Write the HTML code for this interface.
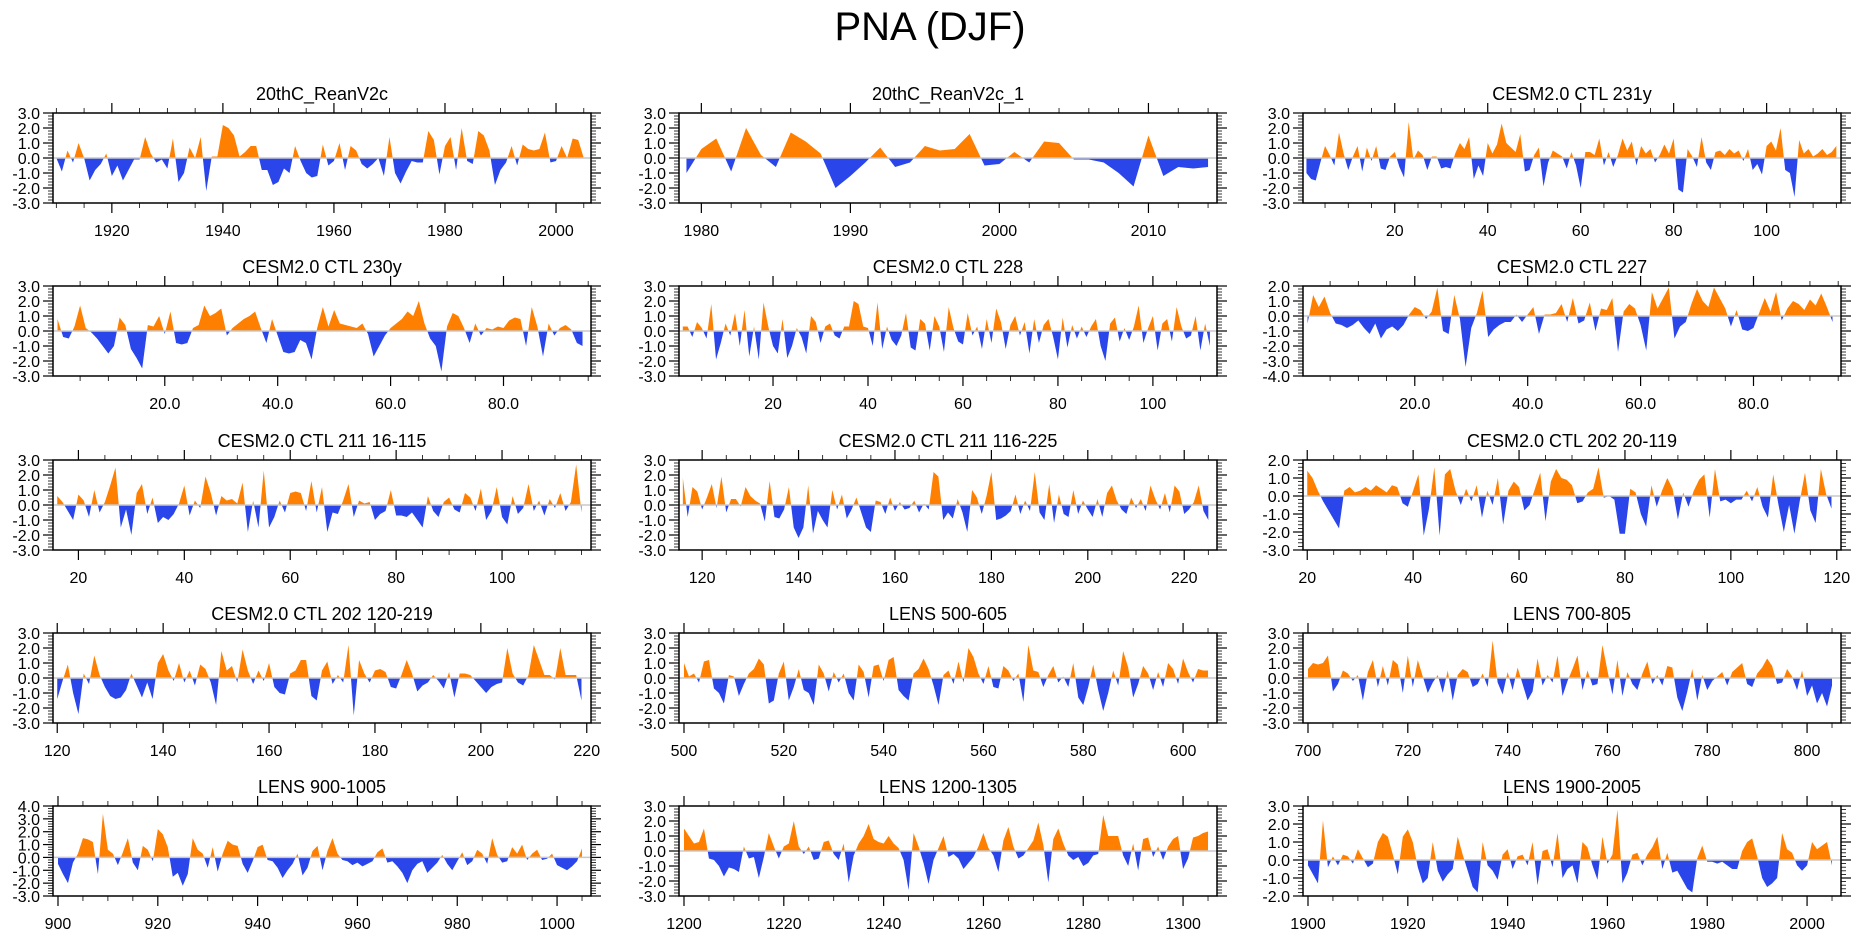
<!DOCTYPE html>
<html><head><meta charset="utf-8"><title>PNA (DJF)</title>
<style>
html,body{margin:0;padding:0;background:#fff;}
svg{display:block;font-family:"Liberation Sans",Arial,sans-serif;}
</style></head>
<body>
<svg id="chart" width="1861" height="936" viewBox="0 0 1861 936" xmlns="http://www.w3.org/2000/svg">
<text x="930" y="40" text-anchor="middle" font-size="40">PNA (DJF)</text>
<g id="panels"></g>
</svg>
<script>
const titles = ["20thC_ReanV2c","20thC_ReanV2c_1","CESM2.0 CTL 231y","CESM2.0 CTL 230y","CESM2.0 CTL 228","CESM2.0 CTL 227","CESM2.0 CTL 211 16-115","CESM2.0 CTL 211 116-225","CESM2.0 CTL 202 20-119","CESM2.0 CTL 202 120-219","LENS 500-605","LENS 700-805","LENS 900-1005","LENS 1200-1305","LENS 1900-2005"];
const starts = [1910,1979,1,1,1,1,16,116,20,120,500,700,900,1200,1900];
const xMins = [1909.4,1978.5,0.26,0.2,0.2,0.2,15.2,115.2,19.2,119.2,499,699,899,1199,1899];
const xMaxs = [2006.3,2014.6,116,95.5,113.5,95.5,116.8,226.8,120.8,220.8,606.8,806.8,1006.8,1306.8,2006.8];
const yMins = [-3,-3,-3,-3,-3,-4,-3,-3,-3,-3,-3,-3,-3,-3,-2];
const yMaxs = [3,3,3,3,3,2,3,3,2,3,3,3,4,3,3];
const xMajor = [20,10,20,20,20,20,20,20,20,20,20,20,20,20,20];
const xMinor = [5,2,5,5,5,5,5,5,5,5,5,5,5,5,5];
const xLabelDecimals = [0,0,0,1,0,1,0,0,0,0,0,0,0,0,0];

const s1 = [0,-0.9,0.5,-0.3,1.0,0,-1.5,-0.8,-0.4,0.3,-1.2,-0.5,-1.5,-0.8,-0.1,-0.1,1.4,0.3,-0.3,-0.1,-0.7,1.3,-1.6,-1.0,0.7,0,1.4,-2.2,0.1,0.1,2.2,2.0,1.5,0.1,0.4,0.8,0.8,-0.8,-0.8,-1.8,-1.6,-0.7,-1.0,0.8,-0.2,-1.0,-1.3,-1.2,0.9,-0.5,-0.2,1.0,-0.8,0.8,0.5,-0.4,-0.7,-0.4,0,-1.2,1.4,-1.0,-1.7,-0.9,-0.2,-0.3,-0.3,1.8,1.2,-1.1,0.8,1.4,-0.8,2.0,-0.2,-0.4,1.8,1.5,0.5,-1.8,-0.8,-0.3,0.8,-0.5,0.9,0.6,0.5,0.6,1.7,-0.3,-0.2,0.8,0,1.3,1.2,0];
const s2 = [-1.0,0.6,1.3,-0.9,2.0,0.2,-0.6,1.7,1.1,0.3,-2.0,-1.2,-0.3,0.7,-0.6,-0.3,0.8,0.5,0.6,1.6,-0.5,-0.4,0.4,-0.3,1.1,1.0,-0.1,-0.1,-0.3,-1.0,-1.9,1.5,-1.2,-0.6,-0.7,-0.6];
const s3 = [-1.0,-1.4,-1.5,-0.3,0.8,0.2,-0.5,1.7,0.3,-0.8,0.1,0.8,-0.9,0.7,-0.2,0.8,-0.7,-0.8,0.1,0.4,-0.6,-1.3,2.4,-0.1,0.5,0.2,-0.8,0.1,0.1,-0.7,-0.6,-0.7,0.3,1.0,0.6,1.4,-1.4,-0.5,-1.2,1.0,0.3,0.9,2.3,1.0,0.7,0.4,1.6,-0.9,-0.8,0.2,0.7,-1.9,-0.3,0.5,0.3,0.1,-0.7,0.4,-0.5,-2.0,0.4,0.4,0.2,1.3,-0.5,0.4,-0.6,0.2,1.3,0.5,1.1,-0.5,0.8,0.3,0.6,-0.3,0.2,0.9,0.3,1.3,-2.1,-2.3,0.6,0.1,-0.6,1.4,-0.3,-0.8,0.4,0.5,0.2,0.6,0.3,0.5,-0.2,0.6,-0.8,-0.4,-1.1,0.8,1.1,0.5,2.0,-0.8,-1.0,-2.6,1.2,0.3,0.6,0.1,0.3,0.6,0.2,0.4,0.8];
const s4 = [0.8,-0.4,-0.5,0.3,1.7,0.2,-0.1,-0.5,-1.0,-1.5,-1.0,0.9,0.4,-1.2,-1.8,-2.5,0.4,0.3,1.0,-0.2,1.3,-0.8,-0.9,-0.8,0.2,0.4,1.7,1.0,1.2,1.5,-0.3,0.2,0.5,0.8,1.0,1.3,0.2,-0.8,0.8,-0.3,-1.4,-1.5,-1.4,-0.6,-0.8,-1.9,0.2,1.6,0.3,1.4,0.5,0.4,0.3,0.2,0.5,-0.2,-1.7,-1.0,-0.3,0.2,0.5,0.8,1.3,1.0,2.0,0.5,-0.5,-1.0,-2.7,0.3,1.2,1.0,0.2,-0.8,0.5,-0.3,0.2,0.1,0.3,0.2,0.7,0.9,0.8,-1.0,1.6,0.3,-1.7,0.5,-0.3,0.2,0.4,0.1,-0.8,-1.0];
const s5 = [0.3,0.3,-0.4,0.6,0.2,-0.5,1.8,-1.9,-0.8,0.5,-0.3,1.2,-1.0,1.4,-1.7,0.3,-1.9,1.9,0.3,-1.0,-1.5,0.8,-1.8,-1.0,0.2,-0.4,-1.5,1.0,0.6,-0.8,0.3,0.5,-0.3,-0.5,0.3,0.3,2.0,1.8,0.3,0.2,-1.0,1.9,-1.2,0.3,-0.6,-1.0,-0.3,1.2,-1.1,-1.3,0.8,0.5,-1.3,1.0,0.3,-1.4,1.6,0.2,-0.7,-0.9,1.2,-0.3,0.3,-1.2,0.8,-0.8,1.5,0.6,-1.2,0.4,1.0,-0.3,0.6,-1.5,0.8,-0.8,0.4,0.8,-0.4,-1.9,0.9,-1.1,0.4,-0.5,0.3,-0.4,0.3,0.8,-1.0,-2.0,0.5,0.9,-0.7,0.2,-0.6,0.3,1.7,-0.8,0.2,1.0,-1.3,0.5,0.8,-0.7,1.6,0.3,-0.5,-0.3,1.0,-1.3,0.5,-1.0];
const s6 = [-0.5,1.4,0.6,1.3,0.2,-0.5,-0.6,-0.8,-0.6,-0.3,-0.8,-1.2,-0.5,-1.5,-0.9,-0.7,-1.0,-0.6,0.1,0.6,0.4,-0.2,0.3,1.9,-1.0,-1.2,1.4,-0.2,-3.4,-0.8,0.2,1.7,-1.4,-0.9,-0.6,-0.4,-0.4,0.1,-0.4,0.1,0.6,-1.2,0.1,0.1,0.2,0.8,-0.4,1.2,-0.5,-0.3,0.9,-1.0,0.5,0.4,1.2,-2.4,0.3,0.8,0.5,-0.6,-2.3,1.6,0.5,1.2,1.9,-1.5,-0.7,-0.4,0.8,1.8,1.0,0.6,1.9,1.2,0.5,-0.7,0.4,-0.9,-1.0,-0.8,0.2,1.2,0.3,1.6,-0.3,0.5,1.0,0.8,0.4,1.1,0.7,1.5,0.6,-0.4];
const s7 = [0.6,0.2,-0.4,-1.0,0.7,0.3,-0.8,1.0,-0.5,0.2,1.3,2.5,-1.5,-0.3,-2.0,0.8,1.4,-0.6,0.5,-1.2,-0.8,-1.0,-0.6,0.1,1.3,-0.7,0.3,-0.2,1.9,0.8,-0.7,0.6,0.3,0.4,0.1,1.5,-1.8,0.3,-1.5,2.3,-1.5,-0.8,0.3,-0.5,0.8,0.9,0.8,-0.4,1.6,-0.5,1.2,-1.8,-0.5,-0.6,0.3,1.4,-0.8,0.3,0.1,0.2,-1.0,-0.6,-0.4,1.0,-0.7,-0.7,-0.8,-0.5,-1.0,-1.5,0.6,-0.4,-0.8,0.2,0.5,-0.3,-0.5,0.8,0.5,-0.4,1.1,-1.0,-0.4,1.2,-0.8,-1.3,0.6,-0.6,-0.2,1.4,-0.4,0.3,-0.7,0.4,-0.2,0.8,-0.4,0.2,2.7,-0.5];
const s8 = [1.8,-0.8,1.2,0.9,-0.3,0.5,1.4,-0.2,1.9,-0.5,0.4,0.4,-0.1,1.2,0.6,0.3,0.1,-1.1,1.6,-0.8,-0.9,-0.3,1.2,-1.5,-2.2,-1.5,1.3,-1.9,-0.4,-1.0,-1.5,1.0,-0.3,0.7,-0.9,-0.3,0.5,-0.5,-1.5,-1.8,0.3,0.2,-0.6,0.5,-0.4,0.2,-0.3,-0.2,0.3,-0.5,0.1,-0.3,2.2,1.9,-1.0,-0.5,-0.9,0.4,-0.5,-1.8,1.0,0.5,-0.6,0.6,2.2,-1.0,-0.9,-0.7,-0.4,0.7,-0.6,0.3,-0.4,2.2,-0.5,-1.0,1.4,-1.2,0.7,-0.6,-0.8,1.0,-0.6,0.3,-0.3,-0.8,0.4,-0.8,0.8,1.3,0.3,-0.3,-0.6,0.5,-0.2,0.4,-0.4,1.3,0.4,-0.3,0.8,-0.5,1.3,0.9,-0.6,-0.3,0.2,1.3,-0.4,-1.0];
const s9 = [1.4,1.0,0.3,-0.3,-0.8,-1.3,-1.8,0.3,0.5,0.2,0.3,0.5,0.3,0.6,0.4,0.2,0.6,0.5,-0.4,-0.6,0.3,1.2,-2.2,-0.7,1.6,-2.2,1.2,1.5,0.3,-0.5,0.4,-0.3,0.6,-1.2,0.3,-0.5,1.0,-1.6,0.3,0.8,0.5,-0.8,-0.5,0.4,1.3,-1.4,0.8,1.5,1.0,0.9,0.6,-0.4,-0.3,0.2,0.4,1.6,-0.1,0.0,-0.2,-2.1,-2.1,0.4,0.2,-1.0,-1.7,0.6,-0.6,0.3,1.0,0.4,-1.3,0.2,-0.6,0.3,0.9,1.2,-1.2,1.5,-0.3,-0.2,-0.4,-0.2,-0.2,0.3,-0.3,0.5,-0.6,-1.2,1.2,-0.5,-2.0,-0.5,-2.1,-0.3,1.3,-0.8,-1.5,1.5,0.1,-0.7];
const s10 = [-1.4,-0.2,0.9,-1.0,-2.4,0.3,-0.4,1.5,0.2,-0.6,-1.2,-1.4,-1.3,-0.8,0.3,-0.5,-1.3,-0.3,-1.4,1.0,1.6,0.5,-0.2,1.0,-0.3,0.5,-0.5,0.9,0.6,-0.3,-1.8,1.8,0.5,0.8,-0.3,1.9,0.5,-0.4,0.5,-0.2,1.0,-0.6,-1.0,-1.1,0.3,0.5,1.2,1.2,-1.2,-1.5,0.5,1.1,-0.4,0.2,-0.3,2.2,-2.5,1.2,0.3,-0.3,0.5,0.6,0.4,-0.6,-0.7,0.2,1.2,0.3,-0.9,-0.5,-0.3,0.2,-0.2,-0.7,0.4,-1.3,0.3,0.3,0.2,-0.2,-0.6,-1.0,-0.6,-0.4,-0.3,2.0,0.3,-0.3,-0.5,0.2,2.2,1.2,0.2,0.2,-0.1,2.0,0.2,0.2,0.2,-1.5];
const s11 = [1.0,0.1,0.3,-0.3,1.1,1.2,-0.7,-1.0,-1.7,0.2,0.1,-1.2,-0.4,0.3,0.6,1.3,0.9,-1.7,-1.5,0.3,1.1,-1.5,-0.6,0.6,-0.8,-1.0,-1.8,0.9,0.3,-0.9,0.4,-0.3,0.3,-1.0,-1.5,0.9,0.4,-1.3,0.8,0.9,-0.2,1.2,1.4,-0.8,-1.2,-1.5,0.3,0.6,1.3,0.6,-0.5,-1.8,0.2,0.5,-0.4,1.1,-0.3,2.0,1.4,0.3,-0.4,0.8,-0.6,-0.7,0.8,0.5,-0.2,0.3,-1.6,2.2,0.5,0.4,-0.6,0.2,0.8,-0.3,0.1,-0.6,1.0,-1.3,-1.8,-0.6,0.9,-0.8,-2.2,-1.0,0.5,-0.5,1.8,0.7,-1.3,-0.4,0.8,0.3,-0.8,0.4,-0.6,1.0,0.6,-0.4,1.3,0.4,-0.3,0.6,0.5,0.5];
const s12 = [0.6,1.0,0.9,1.0,1.5,-0.9,-0.4,0.5,0.3,-0.2,0.2,-1.5,0.4,1.2,-0.6,0.8,-0.5,1.2,0.9,-1.0,1.5,-0.6,1.2,0.1,-1.0,-0.3,0.2,-1.0,0.5,-1.5,0.2,0.6,0.4,-0.6,-0.4,0.3,-0.6,2.5,-0.3,-1.1,0.4,-0.8,0.7,-0.4,-1.5,-0.9,1.3,-0.5,0.2,-0.3,1.5,-1.2,-0.2,0.6,1.5,-0.8,0.5,-0.5,-0.4,2.2,0.5,-1.1,1.2,-1.2,0.4,-0.4,-0.8,0.3,1.1,-0.4,0.2,-0.5,0.8,0.7,-1.3,-2.2,-0.9,0.6,-1.5,0.2,-0.8,-0.2,0.1,0.4,-0.5,0.4,0.7,1.0,-0.4,-0.6,0.3,0.7,1.3,0.8,-0.4,-0.3,0.6,0.1,-0.8,0.5,-1.2,-0.5,-1.7,-1.0,-1.9,-0.5];
const s13 = [-0.5,-1.3,-2.0,-0.4,0.3,1.5,1.4,1.2,-1.3,3.4,0.6,0.3,-0.6,0.4,1.5,-0.4,-1.0,0.9,0.6,-0.3,2.2,1.8,0.8,-1.5,-1.2,-2.2,-1.3,1.5,0.6,0.3,-0.8,0.8,-1.1,0.3,1.3,1.0,0.9,-0.5,-1.2,-0.3,0.8,1.0,-0.2,-0.3,-0.8,-1.6,-1.0,-0.5,0.3,-1.4,-0.8,0.5,0.9,-1.0,0.5,1.5,0.3,-0.2,-0.3,-0.6,-0.4,-0.7,-0.5,-0.3,0.4,0.7,-0.4,-0.3,-0.7,-1.2,-2.0,-1.0,-0.5,-0.3,-1.2,-0.8,-0.4,0.2,-0.5,-1.0,-0.3,0.4,-0.6,-0.3,0.6,0.3,-0.5,1.5,0.2,-0.4,-0.3,0.8,0.3,1.0,-0.2,0.3,0.6,-0.2,-0.1,0.3,-0.6,-0.8,-1.0,-0.7,-0.3,0.7];
const s14 = [1.5,1.0,0.5,0.6,1.5,-0.5,-0.6,-1.0,-1.7,-1.1,-1.2,-1.4,0.3,-0.5,-0.4,-1.8,-0.4,1.2,0.3,-0.5,0.3,0.5,2.0,0.3,-0.2,0.3,-0.6,-0.5,0.6,0.7,-0.2,-0.6,0.5,-2.1,-0.3,0.5,1.0,1.8,0.8,0.6,0.5,1.0,0.5,0.2,-0.6,-2.6,1.2,0.3,-0.8,-2.2,-0.6,0.2,1.0,-0.4,-0.2,-0.5,-1.2,-0.8,-0.4,0.3,1.2,0.2,-0.3,-1.4,0.7,1.6,0.3,-0.5,-0.3,0.2,0.7,1.9,0.4,-2.1,0.8,1.5,0.5,-0.3,-0.6,-0.4,-1.0,-0.8,-0.3,-0.2,2.4,1.0,1.0,1.0,-0.3,-1.0,0.5,-1.3,0.8,0.9,-0.4,0.3,-0.6,0.3,0.8,1.0,-1.2,-0.5,0.9,1.0,1.2,1.3];
const s15 = [-0.3,-0.8,-1.3,2.2,-0.4,0.2,-0.3,0.3,0.2,-0.2,0.6,0.1,-0.4,-0.2,1.0,1.5,1.3,0.3,-0.8,1.3,1.7,1.0,-0.4,-1.3,-1.0,1.0,-0.6,-1.2,-0.8,-0.5,1.3,0.3,-0.6,-1.5,-1.8,1.0,-0.3,-0.6,-1.1,0.3,0.6,-0.5,0.2,0.3,-0.3,1.0,-1.4,0.5,0.6,-0.4,1.5,-1.0,-0.5,-0.3,-1.3,1.0,0.7,-0.3,-1.1,1.3,-0.2,0.3,2.8,-1.3,-0.7,0.3,0.4,-0.3,0.3,0.7,1.3,-0.5,0.4,-0.7,-0.6,-1.1,-1.6,-1.8,0.1,0.8,-0.1,-0.1,-0.2,-0.1,-0.3,-0.5,-0.5,0.5,1.0,1.2,0.2,-1.0,-1.5,-1.3,-1.0,1.5,0.6,0.4,-0.3,-0.6,-0.3,1.0,0.6,0.8,1.0,-0.3];
const series = [s1,s2,s3,s4,s5,s6,s7,s8,s9,s10,s11,s12,s13,s14,s15];

const NS = "http://www.w3.org/2000/svg";
const colLefts = [53,679,1303], colW = 538;
const rowTops = [113,286,460,633,806], rowH = 90;
const root = document.getElementById('panels');
function mk(tag, attrs, parent){ const e=document.createElementNS(NS,tag); for(const k in attrs) e.setAttribute(k,attrs[k]); parent.appendChild(e); return e; }

for (let p=0;p<15;p++){
  const L = colLefts[p%3], T = rowTops[Math.floor(p/3)], R = L+colW, B = T+rowH;
  const xmin=xMins[p], xmax=xMaxs[p], ymin=yMins[p], ymax=yMaxs[p];
  const xs = v => L + (v-xmin)/(xmax-xmin)*(R-L);
  const ys = v => B - (v-ymin)/(ymax-ymin)*(B-T);
  const g = mk('g',{},root);
  
  
  const t = mk('text',{x:(L+R)/2,y:T-13,'text-anchor':'middle','font-size':18},g);
  
  
  t.textContent = titles[p];
  // clip paths
  const cpU = mk('clipPath',{id:'cu'+p},g); mk('rect',{x:L,y:T,width:colW,height:ys(0)-T},cpU);
  const cpD = mk('clipPath',{id:'cd'+p},g); mk('rect',{x:L,y:ys(0),width:colW,height:B-ys(0)},cpD);
  const d = series[p], st = starts[p];
  let path = 'M'+xs(st).toFixed(2)+','+ys(0).toFixed(2);
  for (let i=0;i<d.length;i++) path += ' L'+xs(st+i).toFixed(2)+','+ys(d[i]).toFixed(2);
  path += ' L'+xs(st+d.length-1).toFixed(2)+','+ys(0).toFixed(2)+' Z';
  const pos = mk('path',{d:path,fill:'#ff8000','clip-path':'url(#cu'+p+')'},g);
  
  
  const neg = mk('path',{d:path,fill:'#2a46ea','clip-path':'url(#cd'+p+')'},g);
  
  
  const zl = mk('line',{x1:L,x2:R,y1:ys(0),y2:ys(0),stroke:'#c8c8c8','stroke-width':1.5},g);
  
  
  const fr = mk('rect',{x:L,y:T,width:colW,height:rowH,fill:'none',stroke:'#000','stroke-width':1.5},g);
  
  
  // y ticks
  for (let k=Math.round(ymin*5);k<=Math.round(ymax*5);k++){
    const v=k/5, y=ys(v), major = (k%5===0);
    const len = major?10:5;
    mk('line',{x1:L-len,x2:L,y1:y,y2:y,stroke:'#000','stroke-width':major?1.2:0.8},g);
    mk('line',{x1:R,x2:R+len,y1:y,y2:y,stroke:'#000','stroke-width':major?1.2:0.8},g);
    if (major){
      const yl = mk('text',{x:L-13,y:y+6,'text-anchor':'end','font-size':16},g);
      
      
      yl.textContent = v.toFixed(1);
    }
  }
  // x ticks
  const mn = xMinor[p], mj = xMajor[p];
  for (let v=Math.ceil(xmin/mn)*mn; v<=xmax; v+=mn){
    const x=xs(v), major=(v%mj===0), len=major?10:5;
    mk('line',{x1:x,x2:x,y1:T-len,y2:T,stroke:'#000','stroke-width':major?1.2:0.8},g);
    mk('line',{x1:x,x2:x,y1:B,y2:B+len,stroke:'#000','stroke-width':major?1.2:0.8},g);
    if (major){
      const xl = mk('text',{x:x,y:B+33,'text-anchor':'middle','font-size':16},g);
      
      
      xl.textContent = v.toFixed(xLabelDecimals[p]);
    }
  }
}
</script>
</body></html>
